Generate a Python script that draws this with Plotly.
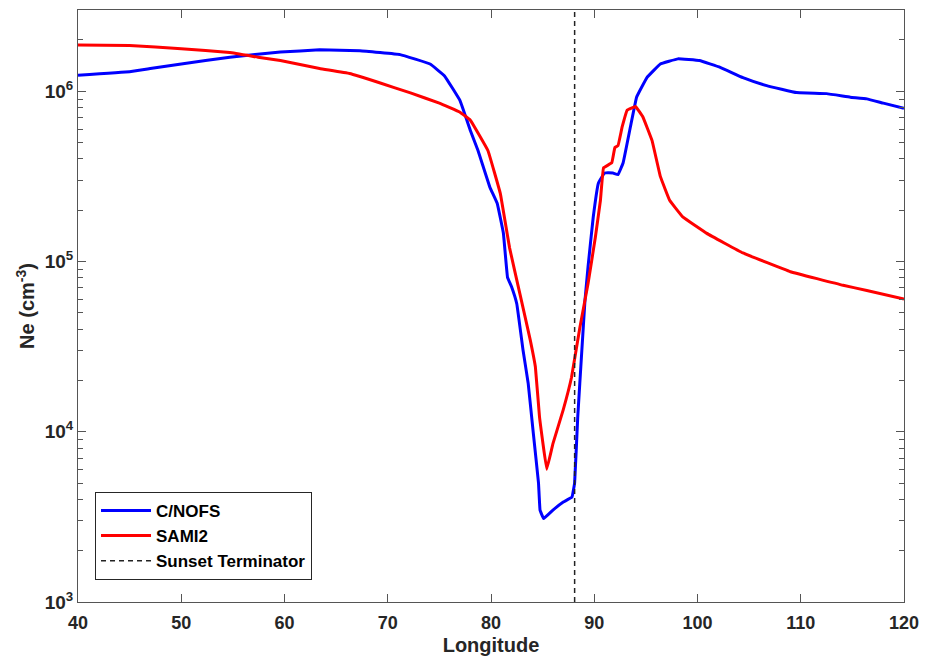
import numpy as np
import plotly.graph_objects as go

cnofs_lon = [40, 45, 47, 50, 54.7, 59.6, 63.4, 67.3, 71.2, 74.1, 75.5, 77, 78, 78.74, 79.9, 80.6, 81.2, 81.6, 82.0,
             82.5, 83.1, 83.6, 84.1, 84.6, 84.75, 85.1, 86.0, 87.0, 87.84, 88.1, 88.4, 88.8, 89.1, 89.4, 89.9,
             90.4, 91.0, 91.8, 92.3, 92.8, 93.5, 94.1, 95.1, 96.4, 98.1, 100.2, 102.2, 104.4, 106.7, 109.6,
             112.5, 114.8, 116.4, 118.0, 120]
cnofs_log = [6.094, 6.114, 6.133, 6.16, 6.2, 6.23, 6.243, 6.238, 6.215, 6.16, 6.09, 5.945, 5.77, 5.652, 5.435,
             5.342, 5.166, 4.907, 4.85, 4.75, 4.48, 4.285, 3.99, 3.70, 3.54, 3.49, 3.54, 3.587, 3.616, 3.70,
             4.086, 4.48, 4.77, 4.97, 5.26, 5.46, 5.52, 5.52, 5.51, 5.58, 5.79, 5.965, 6.08, 6.16, 6.19, 6.18,
             6.14, 6.08, 6.033, 5.992, 5.986, 5.965, 5.955, 5.93, 5.90]

sami_lon = [40, 45, 50, 54.7, 57.6, 59.6, 63.4, 66.3, 69.2, 72.2, 75, 77, 78, 79.7, 80.9, 81.8, 82.8, 83.8, 84.3,
            84.7, 85.4, 86.0, 87.0, 87.8, 88.6, 89.4, 90.1, 90.6, 90.9, 91.7, 92.0, 92.3, 92.7, 93.2, 94.0,
            94.7, 95.6, 96.4, 97.3, 98.6, 100.9, 104.4, 109.0, 114.1, 116.4, 120]
sami_log = [6.272, 6.268, 6.25, 6.227, 6.198, 6.18, 6.133, 6.104, 6.05, 5.99, 5.93, 5.877, 5.83, 5.652, 5.40,
            5.08, 4.81, 4.54, 4.38, 4.086, 3.78, 3.93, 4.13, 4.32, 4.61, 4.87, 5.14, 5.36, 5.55, 5.58, 5.67,
            5.68, 5.79, 5.89, 5.91, 5.85, 5.71, 5.50, 5.36, 5.26, 5.165, 5.05, 4.94, 4.86, 4.83, 4.78]

terminator_lon = 88.1
y_tickvals = [1e3, 1e4, 1e5, 1e6]
y_ticktext = ["10<sup>3</sup>", "10<sup>4</sup>", "10<sup>5</sup>", "10<sup>6</sup>"]
x_tickvals = [40, 50, 60, 70, 80, 90, 100, 110, 120]

cnofs_ne = [10 ** v for v in cnofs_log]
sami_ne = [10 ** v for v in sami_log]

minor_vals = [m * 10 ** d for d in range(3, 7) for m in range(2, 10)]

FONT = "Liberation Sans, Arial"
fig = go.Figure()
fig.add_trace(go.Scatter(x=cnofs_lon, y=cnofs_ne, mode="lines", name="C/NOFS",
                         line=dict(color="#0000ff", width=3, shape="spline", smoothing=0.2)))
fig.add_trace(go.Scatter(x=sami_lon, y=sami_ne, mode="lines", name="SAMI2",
                         line=dict(color="#ff0000", width=3, shape="spline", smoothing=0.2)))
fig.add_trace(go.Scatter(x=[terminator_lon, terminator_lon], y=[1e3, 3e6], mode="lines",
                         name="Sunset Terminator",
                         line=dict(color="#222222", width=1.5, dash="5px,4px")))

fig.update_layout(
    width=921, height=650,
    margin=dict(l=70, r=25, t=2, b=56),
    paper_bgcolor="white", plot_bgcolor="white",
    font=dict(family=FONT, color="#262626"),
    showlegend=True,
    legend=dict(x=0.0206, y=0.186, xanchor="left", yanchor="top",
                bgcolor="white", bordercolor="#262626", borderwidth=1,
                font=dict(family=FONT, size=17, color="#000000", weight="bold"),
                tracegroupgap=0, itemwidth=50),
)
fig.update_xaxes(range=[40, 120], tickvals=x_tickvals, ticks="inside", ticklen=8, tickcolor="#555555",
                 showline=True, linecolor="#555555", linewidth=1, mirror="ticks", showgrid=False, zeroline=False,
                 ticklabelstandoff=4,
                 tickfont=dict(family=FONT, size=18, color="#262626", weight="bold"),
                 title=dict(text="<b>Longitude</b>", font=dict(family=FONT, size=20, color="#262626"),
                            standoff=6))
fig.update_yaxes(type="log", range=[3, np.log10(3e6)], tickvals=y_tickvals, ticktext=y_ticktext,
                 ticks="inside", ticklen=8, tickcolor="#555555",
                 minor=dict(tickvals=minor_vals, ticks="inside", ticklen=5, tickcolor="#555555"),
                 showline=True, linecolor="#555555", linewidth=1, mirror="ticks", showgrid=False, zeroline=False,
                 tickfont=dict(family=FONT, size=19, color="#262626", weight="bold"),
                 title=dict(text="<b>Ne (cm<sup>-3</sup>)</b>", font=dict(family=FONT, size=20, color="#262626"),
                            standoff=4))

fig.write_html("out.html")
